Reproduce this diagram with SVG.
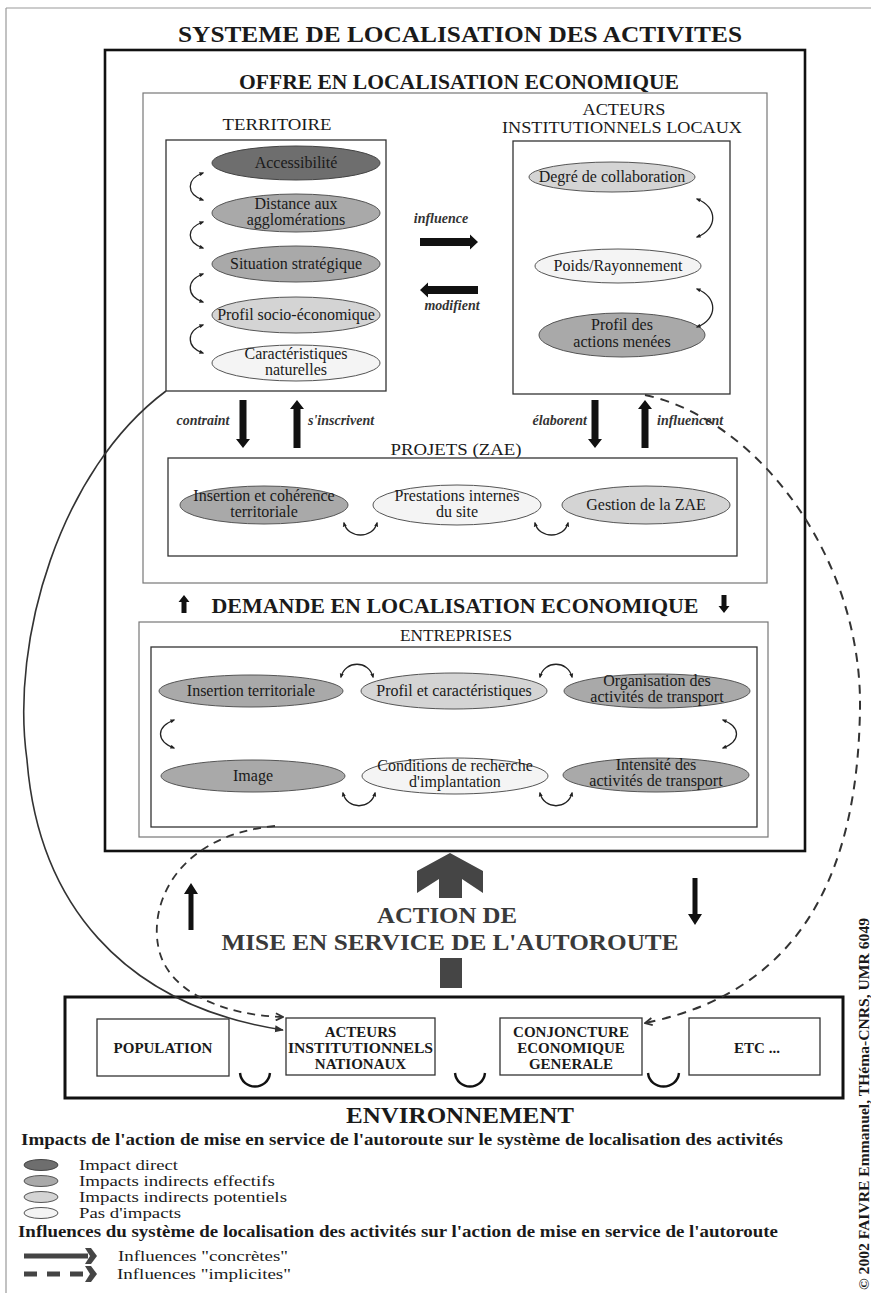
<svg xmlns="http://www.w3.org/2000/svg" xmlns:xlink="http://www.w3.org/1999/xlink" width="871" height="1293" viewBox="0 0 871 1293">
<style>
.t{font-family:"Liberation Serif","Times New Roman",serif;fill:#1a1a1a}
.b{font-weight:bold}
.m{text-anchor:middle}
.el{font-size:16px;text-anchor:middle}
.lab{font-size:16px;text-anchor:middle}
.it{font-size:14px;font-style:italic;font-weight:bold;fill:#333}
.env{font-size:15px;font-weight:bold;text-anchor:middle}
.leg{font-size:14px}
.thick{fill:none;stroke:#111;stroke-width:2.6}
.box{fill:none;stroke:#333;stroke-width:1.3}
.grey{fill:none;stroke:#777;stroke-width:1.2}
.e1{fill:#6e6e6e;stroke:#444;stroke-width:1}
.e2{fill:#a9a9a9;stroke:#555;stroke-width:1}
.e3{fill:#d4d4d4;stroke:#555;stroke-width:1}
.e4{fill:#f4f4f4;stroke:#555;stroke-width:1}
.curl{fill:none;stroke:#222;stroke-width:1.3;marker-start:url(#ah);marker-end:url(#ah)}
.u{fill:none;stroke:#111;stroke-width:2.4}
.blk{fill:#111}
.dk{fill:#454545}
</style>
<defs>
<marker id="ah" viewBox="0 0 10 10" refX="7" refY="5" markerWidth="5" markerHeight="5" markerUnits="userSpaceOnUse" orient="auto-start-reverse"><path d="M0,1 L10,5 L0,9 z" fill="#222"/></marker>
<marker id="ahs" viewBox="0 0 10 10" refX="9" refY="5" markerWidth="9" markerHeight="9" markerUnits="userSpaceOnUse" orient="auto"><path d="M0,1 L10,5 L0,9 z" fill="#333"/></marker>
<marker id="ahd" viewBox="0 0 10 10" refX="9" refY="5" markerWidth="9" markerHeight="9" markerUnits="userSpaceOnUse" orient="auto"><path d="M1,1 L9,5 L1,9" fill="none" stroke="#333" stroke-width="2"/></marker>
<path id="arDown" d="M-3.5,0 H3.5 V39 H7 L0,48 L-7,39 H-3.5 Z"/>
<path id="arRight" d="M0,-4 H50 V-7.5 L58,0 L50,7.5 V4 H0 Z"/>
<path id="arSmall" d="M-2.5,0 H2.5 V11 H5.5 L0,18 L-5.5,11 H-2.5 Z"/>
<path id="arThin" d="M-2.5,0 H2.5 V36 H7 L0,47 L-7,36 H-2.5 Z"/>
</defs>

<rect width="871" height="1293" fill="#ffffff"/>
<g id="frame">
<line x1="6" y1="8" x2="871" y2="8" stroke="#999" stroke-width="1.2"/>
<line x1="6" y1="8" x2="6" y2="1293" stroke="#999" stroke-width="1.2"/>
</g>

<text class="t b m" x="460" y="42" font-size="24" textLength="564" lengthAdjust="spacingAndGlyphs">SYSTEME DE LOCALISATION DES ACTIVITES</text>

<g id="systeme">
<rect class="thick" x="105" y="50" width="700" height="801"/>
<text class="t b m" x="459" y="89" font-size="22" textLength="440" lengthAdjust="spacingAndGlyphs">OFFRE EN LOCALISATION ECONOMIQUE</text>
</g>

<g id="offre">
<rect class="grey" x="143" y="93" width="624" height="490"/>
</g>

<g id="territoire">
<text class="t lab" x="277" y="130" textLength="109" lengthAdjust="spacingAndGlyphs">TERRITOIRE</text>
<rect class="box" x="166" y="140" width="220" height="251"/>
<ellipse class="e1" cx="296" cy="163" rx="84" ry="17"/>
<text class="t el" x="296" y="168">Accessibilité</text>
<ellipse class="e2" cx="296" cy="213" rx="84" ry="19"/>
<text class="t el" x="296" y="209">Distance aux</text>
<text class="t el" x="296" y="225">agglomérations</text>
<ellipse class="e2" cx="296" cy="264" rx="84" ry="18"/>
<text class="t el" x="296" y="269">Situation stratégique</text>
<ellipse class="e3" cx="296" cy="315" rx="84" ry="18"/>
<text class="t el" x="296" y="320">Profil socio-économique</text>
<ellipse class="e4" cx="296" cy="363" rx="84" ry="18"/>
<text class="t el" x="296" y="359">Caractéristiques</text>
<text class="t el" x="296" y="375">naturelles</text>
<path class="curl" d="M203,173 C186,179 186,194 203,200"/>
<path class="curl" d="M203,222 C186,228 186,242 203,248"/>
<path class="curl" d="M203,274 C186,280 186,296 203,302"/>
<path class="curl" d="M203,325 C186,331 186,347 203,353"/>
</g>

<g id="acteurs-locaux">
<text class="t lab" x="624" y="115" textLength="83" lengthAdjust="spacingAndGlyphs">ACTEURS</text>
<text class="t lab" x="622" y="133" textLength="240" lengthAdjust="spacingAndGlyphs">INSTITUTIONNELS LOCAUX</text>
<rect class="box" x="513" y="141" width="217" height="253"/>
<ellipse class="e3" cx="612" cy="177" rx="83" ry="15"/>
<text class="t el" x="612" y="182">Degré de collaboration</text>
<ellipse class="e4" cx="618" cy="266" rx="83" ry="17"/>
<text class="t el" x="618" y="271">Poids/Rayonnement</text>
<ellipse class="e2" cx="622" cy="335" rx="83" ry="22"/>
<text class="t el" x="622" y="330">Profil des</text>
<text class="t el" x="622" y="347">actions menées</text>
<path class="curl" d="M697,199 C718,207 718,229 697,237"/>
<path class="curl" d="M697,289 C718,297 718,319 697,327"/>
</g>

<g id="projets">
<text class="t lab" x="456" y="455" textLength="131" lengthAdjust="spacingAndGlyphs">PROJETS (ZAE)</text>
<rect class="box" x="168" y="458" width="569" height="98"/>
<ellipse class="e2" cx="264" cy="505" rx="84" ry="19"/>
<text class="t el" x="264" y="501">Insertion et cohérence</text>
<text class="t el" x="264" y="517">territoriale</text>
<ellipse class="e4" cx="457" cy="505" rx="84" ry="20"/>
<text class="t el" x="457" y="501">Prestations internes</text>
<text class="t el" x="457" y="517">du site</text>
<ellipse class="e3" cx="646" cy="505" rx="84" ry="19"/>
<text class="t el" x="646" y="510">Gestion de la ZAE</text>
<path class="curl" d="M344,523 C348,539 373,539 377,523"/>
<path class="curl" d="M535,523 C539,539 564,539 568,523"/>
</g>

<g id="demande">
<use xlink:href="#arSmall" class="blk" transform="translate(184,613) rotate(180)"/>
<text class="t b m" x="455" y="613" font-size="22" textLength="487" lengthAdjust="spacingAndGlyphs">DEMANDE EN LOCALISATION ECONOMIQUE</text>
<use xlink:href="#arSmall" class="blk" transform="translate(724,595)"/>
</g>

<g id="entreprises">
<rect class="grey" x="139" y="622" width="629" height="215"/>
<text class="t lab" x="456" y="641" textLength="112" lengthAdjust="spacingAndGlyphs">ENTREPRISES</text>
<rect class="box" x="151" y="647" width="606" height="180"/>
<ellipse class="e2" cx="251" cy="691" rx="92" ry="16"/>
<text class="t el" x="251" y="696">Insertion territoriale</text>
<ellipse class="e3" cx="454" cy="691" rx="93" ry="18"/>
<text class="t el" x="454" y="696">Profil et caractéristiques</text>
<ellipse class="e2" cx="657" cy="691" rx="93" ry="17"/>
<text class="t el" x="657" y="686">Organisation des</text>
<text class="t el" x="657" y="702">activités de transport</text>
<ellipse class="e2" cx="253" cy="776" rx="92" ry="16"/>
<text class="t el" x="253" y="781">Image</text>
<ellipse class="e4" cx="455" cy="776" rx="93" ry="18"/>
<text class="t el" x="455" y="771">Conditions de recherche</text>
<text class="t el" x="455" y="787">d'implantation</text>
<ellipse class="e2" cx="656" cy="775" rx="93" ry="17"/>
<text class="t el" x="656" y="770">Intensité des</text>
<text class="t el" x="656" y="786">activités de transport</text>
<path class="curl" d="M341,677 C345,660 369,660 373,677"/>
<path class="curl" d="M540,677 C544,660 568,660 572,677"/>
<path class="curl" d="M343,793 C347,810 371,810 375,793"/>
<path class="curl" d="M540,793 C544,810 568,810 572,793"/>
<path class="curl" d="M174,720 C156,727 156,741 174,748"/>
<path class="curl" d="M723,720 C741,727 741,741 723,748"/>
</g>

<g id="action">
<polygon class="dk" points="450,853 483,871 483,893 462,879 462,898 439,898 439,879 417,893 417,871"/>
<text class="t b m" x="447" y="923" font-size="24" textLength="140" lengthAdjust="spacingAndGlyphs" style="fill:#3a3a3a">ACTION DE</text>
<text class="t b m" x="450" y="950" font-size="24" textLength="457" lengthAdjust="spacingAndGlyphs" style="fill:#3a3a3a">MISE EN SERVICE DE L'AUTOROUTE</text>
<rect class="dk" x="440" y="958" width="22" height="30"/>
<use xlink:href="#arThin" class="blk" transform="translate(191,930) rotate(180)"/>
<use xlink:href="#arThin" class="blk" transform="translate(695,878)"/>
</g>

<g id="environnement">
<rect class="thick" x="65" y="997" width="778" height="101" style="stroke-width:3"/>
<text class="t b m" x="460" y="1123" font-size="24" textLength="228" lengthAdjust="spacingAndGlyphs">ENVIRONNEMENT</text>
<path class="u" d="M240,1073 C242,1091 268,1091 270,1073"/>
<path class="u" d="M455,1073 C457,1091 483,1091 485,1073"/>
<path class="u" d="M648,1073 C650,1091 677,1091 679,1073"/>
</g>
<g id="population">
<rect class="box" x="97" y="1019" width="132" height="57"/>
<text class="t env" x="163" y="1053">POPULATION</text>
</g>
<g id="acteurs-nationaux">
<rect class="box" x="286" y="1018" width="149" height="57"/>
<text class="t env" x="360.5" y="1037">ACTEURS</text>
<text class="t env" x="360.5" y="1053" textLength="145" lengthAdjust="spacingAndGlyphs">INSTITUTIONNELS</text>
<text class="t env" x="360.5" y="1069">NATIONAUX</text>
</g>
<g id="conjoncture">
<rect class="box" x="500" y="1018" width="142" height="57"/>
<text class="t env" x="571" y="1037">CONJONCTURE</text>
<text class="t env" x="571" y="1053">ECONOMIQUE</text>
<text class="t env" x="571" y="1069">GENERALE</text>
</g>
<g id="etc">
<rect class="box" x="689" y="1018" width="131" height="57"/>
<text class="t env" x="757" y="1053">ETC ...</text>
</g>

<g id="connectors">
<use xlink:href="#arDown" class="blk" transform="translate(243,400)"/>
<text class="t it" x="203" y="425" text-anchor="middle">contraint</text>
<use xlink:href="#arDown" class="blk" transform="translate(297,448) rotate(180)"/>
<text class="t it" x="308" y="425">s'inscrivent</text>
<use xlink:href="#arDown" class="blk" transform="translate(595,400)"/>
<text class="t it" x="587" y="425" text-anchor="end">élaborent</text>
<use xlink:href="#arDown" class="blk" transform="translate(645,448) rotate(180)"/>
<text class="t it" x="657" y="425">influencent</text>
<text class="t it" x="441" y="223" text-anchor="middle">influence</text>
<use xlink:href="#arRight" class="blk" transform="translate(420,242)"/>
<use xlink:href="#arRight" class="blk" transform="translate(478,290) rotate(180)"/>
<text class="t it" x="452" y="310" text-anchor="middle">modifient</text>
<path d="M166,391 C60,470 10,640 27,760 C38,900 120,1005 283,1030" fill="none" stroke="#333" stroke-width="1.6" marker-end="url(#ahs)"/>
<path d="M645,395 C760,420 862,560 860,708 C858,860 810,990 645,1023" fill="none" stroke="#333" stroke-width="2" stroke-dasharray="9,7" marker-end="url(#ahd)"/>
<path d="M275,826 C180,835 150,900 158,945 C165,990 220,1015 283,1017" fill="none" stroke="#333" stroke-width="1.8" stroke-dasharray="8,6" marker-end="url(#ahd)"/>
</g>

<g id="legende">
<text class="t b" x="21" y="1145" font-size="16" textLength="762" lengthAdjust="spacingAndGlyphs">Impacts de l'action de mise en service de l'autoroute sur le système de localisation des activités</text>
<ellipse class="e1" cx="41" cy="1165" rx="17" ry="5.5"/>
<text class="t leg" x="79" y="1170" textLength="99" lengthAdjust="spacingAndGlyphs">Impact direct</text>
<ellipse class="e2" cx="41" cy="1181" rx="17" ry="5.5"/>
<text class="t leg" x="79" y="1186" textLength="196" lengthAdjust="spacingAndGlyphs">Impacts indirects effectifs</text>
<ellipse class="e3" cx="41" cy="1197" rx="17" ry="5.5"/>
<text class="t leg" x="79" y="1202" textLength="208" lengthAdjust="spacingAndGlyphs">Impacts indirects potentiels</text>
<ellipse class="e4" cx="41" cy="1213" rx="17" ry="5.5"/>
<text class="t leg" x="79" y="1218" textLength="102" lengthAdjust="spacingAndGlyphs">Pas d'impacts</text>
<text class="t b" x="18" y="1237" font-size="16" textLength="760" lengthAdjust="spacingAndGlyphs">Influences du système de localisation des activités sur l'action de mise en service de l'autoroute</text>
<line x1="24" y1="1256" x2="88" y2="1256" stroke="#444" stroke-width="5"/>
<path class="dk" d="M85,1248 L91,1248 L97,1256 L91,1264 L85,1264 L90,1256 Z"/>
<text class="t leg" x="118" y="1261" textLength="170" lengthAdjust="spacingAndGlyphs">Influences "concrètes"</text>
<line x1="24" y1="1274" x2="86" y2="1274" stroke="#444" stroke-width="5" stroke-dasharray="13,10"/>
<path class="dk" d="M85,1266 L91,1266 L97,1274 L91,1282 L85,1282 L90,1274 Z"/>
<text class="t leg" x="117" y="1279" textLength="174" lengthAdjust="spacingAndGlyphs">Influences "implicites"</text>
</g>

<text class="t b" transform="translate(869,1290) rotate(-90)" font-size="15" textLength="372" lengthAdjust="spacingAndGlyphs">© 2002 FAIVRE Emmanuel, THéma-CNRS, UMR 6049</text>
</svg>
